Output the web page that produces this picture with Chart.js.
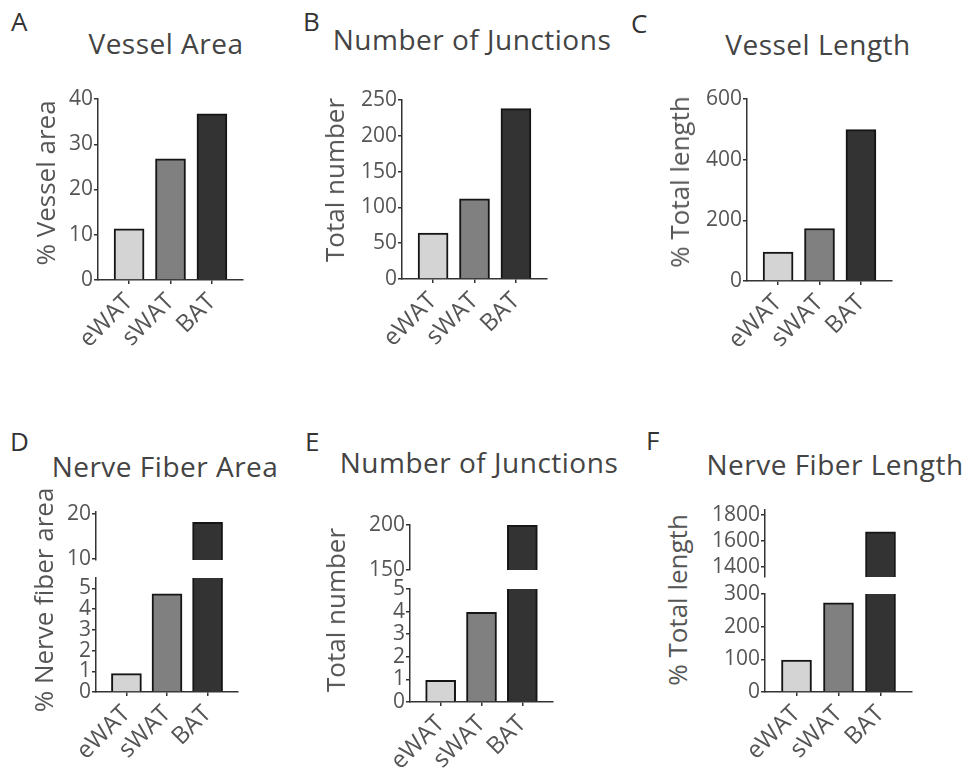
<!DOCTYPE html>
<html><head><meta charset="utf-8">
<script src="https://cdn.jsdelivr.net/npm/chart.js@4"></script>
<style>
html,body{margin:0;padding:0;background:#fff;}
#fig{position:relative;width:971px;height:779px;overflow:hidden;font-family:'Open Sans',sans-serif;background:#fff;}
.box{position:absolute;}
.t{position:absolute;white-space:nowrap;line-height:1;z-index:5;}
.letter{font-size:26px;color:#333;}
.title{font-size:28px;color:#444;letter-spacing:0.5px;transform:translateX(-50%);}
.ytitle{font-size:26px;color:#555;transform:translate(-50%,-50%) rotate(-90deg);}
</style></head><body><div id="fig"></div>
<script>
// ---- data ----
const categories = ['eWAT', 'sWAT', 'BAT'];
const vesselArea = [11.3, 26.8, 36.7];
const vesselJunctions = [64, 112, 238];
const vesselLength = [95, 173, 499];
const nerveFiberArea = [0.89, 4.74, 18.1];
const nerveJunctions = [0.96, 3.97, 200];
const nerveFiberLength = [98, 273, 1670];

const ticksA = [0, 10, 20, 30, 40];
const ticksB = [0, 50, 100, 150, 200, 250];
const ticksC = [0, 200, 400, 600];
const ticksDLow = [0, 1, 2, 3, 4, 5];
const ticksDHigh = [10, 20];
const ticksELow = [0, 1, 2, 3, 4, 5];
const ticksEHigh = [150, 200];
const ticksFLow = [0, 100, 200, 300];
const ticksFHigh = [1400, 1600, 1800];

const barFills = ['#d4d4d4', '#808080', '#333333'];

// ---- layout constants ----
const YW = 60, PT = 14, PR = 12, XH = 80, PBU = 14;
const fig = document.getElementById('fig');

function addText(cls, txt, left, top) {
  const d = document.createElement('div');
  d.className = 't ' + cls;
  d.textContent = txt;
  d.style.left = left + 'px';
  d.style.top = top + 'px';
  fig.appendChild(d);
}

function makeChart(o) {
  const div = document.createElement('div');
  div.className = 'box';
  const pb = o.showX ? 0 : PBU;
  const xh = o.showX ? XH : 0;
  div.style.left = (o.axisX - YW) + 'px';
  div.style.top = (o.top - PT) + 'px';
  div.style.width = (YW + o.axisW + PR) + 'px';
  div.style.height = (o.bottom - o.top + PT + pb + xh) + 'px';
  const cv = document.createElement('canvas');
  div.appendChild(cv);
  fig.appendChild(div);
  const gridOpts = {display: true, drawOnChartArea: false, drawTicks: true, tickLength: 4, color: '#333', lineWidth: 1.5, offset: false};
  const borderOpts = {display: true, color: '#333', width: 1.5};
  new Chart(cv, {
    type: 'bar',
    data: {
      datasets: [{
        data: o.values.map((v, i) => ({x: i + 1, y: v})),
        backgroundColor: barFills,
        borderColor: '#151515',
        borderWidth: 2,
        barThickness: 30,
        clip: 0
      }]
    },
    options: {
      responsive: true, maintainAspectRatio: false, animation: false,
      layout: {padding: {top: PT, right: PR, bottom: pb, left: 0}},
      plugins: {legend: {display: false}, tooltip: {enabled: false}},
      scales: {
        x: {
          type: 'linear', min: 0.25, max: 3.75, display: o.showX, z: 1,
          offset: false, bounds: 'data',
          afterBuildTicks: s => { s.ticks = categories.map((c, i) => ({value: i + 1})); },
          afterFit: s => { if (o.showX) s.height = XH; },
          grid: gridOpts, border: borderOpts,
          ticks: {autoSkip: false, maxRotation: 45, minRotation: 45, padding: 4, color: '#555',
                  font: {family: "'Open Sans', sans-serif", size: 24},
                  callback: v => categories[Math.round(v) - 1] ?? ''}
        },
        y: {
          type: 'linear', min: o.min, max: o.max, z: 1,
          afterBuildTicks: s => { s.ticks = o.ticks.map(v => ({value: v})); },
          afterFit: s => { s.width = YW; },
          grid: gridOpts, border: borderOpts,
          ticks: {autoSkip: false, padding: 1, color: '#555',
                  font: {family: "'Open Sans', sans-serif", size: 21},
                  callback: v => String(v)}
        }
      }
    }
  });
}

// ---- top row ----
makeChart({values: vesselArea, ticks: ticksA, min: 0, max: 40, axisX: 98, axisW: 145, top: 99, bottom: 280, showX: true});
makeChart({values: vesselJunctions, ticks: ticksB, min: 0, max: 250, axisX: 402, axisW: 145, top: 100, bottom: 279, showX: true});
makeChart({values: vesselLength, ticks: ticksC, min: 0, max: 600, axisX: 747, axisW: 145, top: 99, bottom: 281, showX: true});

// ---- bottom row (broken axes) ----
makeChart({values: nerveFiberArea, ticks: ticksDHigh, min: 9.8, max: 20.4, axisX: 96, axisW: 142, top: 512, bottom: 560, showX: false});
makeChart({values: nerveFiberArea, ticks: ticksDLow, min: 0, max: 5.5, axisX: 96, axisW: 142, top: 578, bottom: 692, showX: true});
makeChart({values: nerveJunctions, ticks: ticksEHigh, min: 150, max: 200, axisX: 410, axisW: 143, top: 525, bottom: 570, showX: false});
makeChart({values: nerveJunctions, ticks: ticksELow, min: 0, max: 5, axisX: 410, axisW: 143, top: 589, bottom: 702, showX: true});
makeChart({values: nerveFiberLength, ticks: ticksFHigh, min: 1320, max: 1840, axisX: 765, axisW: 147, top: 510, bottom: 577, showX: false});
makeChart({values: nerveFiberLength, ticks: ticksFLow, min: 0, max: 300, axisX: 765, axisW: 147, top: 594, bottom: 692, showX: true});

// ---- text ----
addText('letter', 'A', 11, 8);
addText('letter', 'B', 303, 8);
addText('letter', 'C', 631, 10);
addText('letter', 'D', 10, 428);
addText('letter', 'E', 305, 428);
addText('letter', 'F', 646, 427);

addText('title', 'Vessel Area', 166, 29);
addText('title', 'Number of Junctions', 472, 25);
addText('title', 'Vessel Length', 818, 30);
addText('title', 'Nerve Fiber Area', 165, 452);
addText('title', 'Number of Junctions', 479, 448);
addText('title', 'Nerve Fiber Length', 835, 450);

addText('ytitle', '% Vessel area', 45, 183);
addText('ytitle', 'Total number', 334, 180);
addText('ytitle', '% Total length', 679, 182);
addText('ytitle', '% Nerve fiber area', 43, 600);
addText('ytitle', 'Total number', 335, 610);
addText('ytitle', '% Total length', 677, 600);
</script>
</body></html>
